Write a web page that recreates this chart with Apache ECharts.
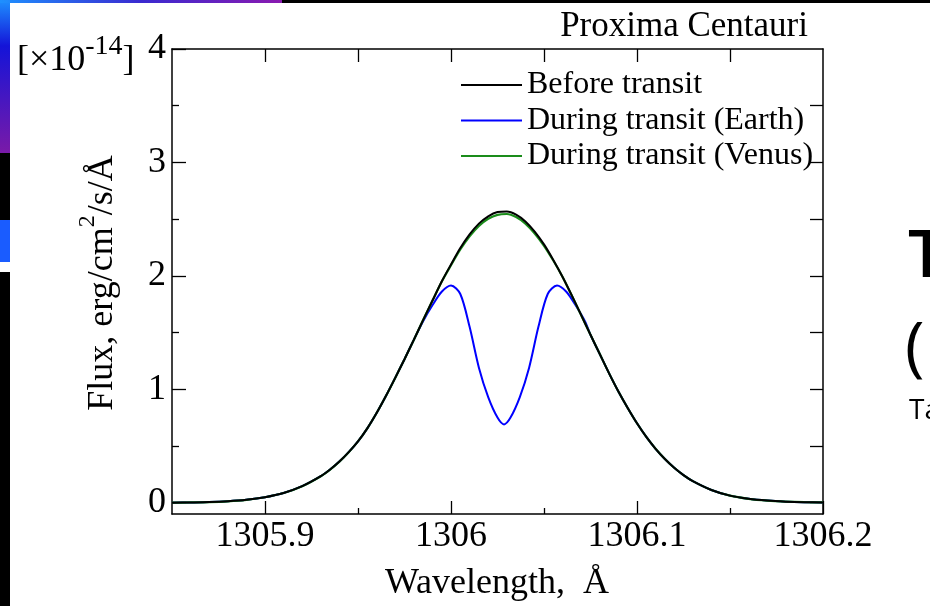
<!DOCTYPE html>
<html><head><meta charset="utf-8">
<script src="https://cdn.jsdelivr.net/npm/echarts@6/dist/echarts.min.js"></script>
<style>html,body{margin:0;padding:0;background:#fff}#c{width:930px;height:606px}</style>
</head><body><div id="c"></div>
<script>
// ---- data ----
const wavelength = [1305.85,1305.86,1305.87,1305.88,1305.89,1305.90,1305.91,1305.92,1305.93,
  1305.935,1305.94,1305.945,1305.95,1305.955,1305.96,1305.965,1305.97,1305.975,1305.98,1305.985,1305.99,1305.995,
  1306.00,1306.005,1306.01,1306.015,1306.02,1306.025,1306.03,1306.035,1306.04,1306.045,1306.05,1306.055,1306.06,
  1306.065,1306.07,1306.075,1306.08,1306.085,1306.09,1306.095,1306.10,1306.105,1306.11,1306.115,1306.12,1306.125,1306.13,
  1306.14,1306.15,1306.16,1306.17,1306.18,1306.19,1306.20];
const fluxBefore = [0.00,0.002,0.005,0.012,0.025,0.048,0.085,0.145,0.233,
  0.292,0.362,0.445,0.54,0.655,0.79,0.94,1.10,1.265,1.435,1.61,1.78,1.95,
  2.10,2.245,2.365,2.46,2.525,2.562,2.567,2.54,2.48,2.39,2.277,2.14,1.99,
  1.825,1.653,1.48,1.31,1.14,0.98,0.835,0.70,0.58,0.475,0.385,0.308,0.243,0.19,
  0.112,0.062,0.034,0.018,0.009,0.004,0.002];
const fluxVenus = [0.00,0.002,0.005,0.012,0.025,0.048,0.085,0.145,0.233,
  0.292,0.362,0.445,0.54,0.655,0.79,0.94,1.10,1.265,1.435,1.61,1.78,1.948,
  2.093,2.232,2.348,2.44,2.503,2.538,2.545,2.518,2.46,2.373,2.265,2.135,1.99,
  1.825,1.653,1.48,1.31,1.14,0.98,0.835,0.70,0.58,0.475,0.385,0.308,0.243,0.19,
  0.112,0.062,0.034,0.018,0.009,0.004,0.002];
// Earth transit: absorption dip region (outside it the curve follows "Before transit")
const earthDipWavelength = [1305.985,1305.99,1305.995,1306.000,1306.005,1306.010,1306.015,1306.020,1306.025,1306.0285,
  1306.032,1306.037,1306.042,1306.047,1306.052,1306.057,1306.062,1306.067,1306.072,1306.075];
const earthDipFlux = [1.60,1.74,1.86,1.915,1.84,1.55,1.19,0.93,0.75,0.69,
  0.75,0.93,1.19,1.55,1.84,1.915,1.86,1.74,1.60,1.48];
const seriesNames = ['Before transit','During transit (Earth)','During transit (Venus)'];
const seriesColors = ['#000000','#0000ff','#1a8c1a'];
const xMajorTicks = [1305.9,1306,1306.1,1306.2];
const xMinorTicks = [1305.95,1306.05,1306.15];
const xTopTicks = [1305.9,1305.95,1306,1306.05,1306.1,1306.15];
const yMajorTicks = [0,1,2,3,4];
const yMinorTicks = [0.5,1.5,2.5,3.5];
const yRightTicks = [0,0.5,1,1.5,2,2.5,3,3.5];

// ---- build ----
const FONT = 'Liberation Serif';
const pairs = (xs, ys) => xs.map((x, i) => [x, ys[i]]);
const before = pairs(wavelength, fluxBefore);
const venus = pairs(wavelength, fluxVenus);
const dS = earthDipWavelength[0], dE = earthDipWavelength[earthDipWavelength.length - 1];
const earth = before.filter(p => p[0] < dS).concat(pairs(earthDipWavelength, earthDipFlux), before.filter(p => p[0] > dE));

const mctx = document.createElement('canvas').getContext('2d');
function tw(t, size) { mctx.font = size + 'px "Liberation Serif"'; return mctx.measureText(t).width; }
function txt(x, y, text, size, extra) {
  return Object.assign({type: 'text', x: x, y: y, z: 100, style: {text: text, fill: '#000',
    font: size + 'px "Liberation Serif"', align: 'left', verticalAlign: 'middle'}}, extra || {});
}
// superscript runs: [text, size, yOffset]
function runs(parts, x0, y0) {
  let x = x0; const out = [];
  parts.forEach(p => { out.push(txt(x, y0 + p[2], p[0], p[1])); x += tw(p[0], p[1]); });
  return {els: out, width: x - x0};
}
const unitRuns = runs([['[×10', 36, 0], ['-14', 28, -14], [']', 36, 0]], 17, 61);
const yTitleParts = [['Flux, erg/cm', 36, 0], ['2', 24, -15], ['/s/Å', 36, 0]];
const yTitleW = yTitleParts.reduce((s, p) => s + tw(p[0], p[1]), 0);
const yTitleRuns = runs(yTitleParts, -yTitleW / 2, 0);

const X = {min: 1305.85, max: 1306.2};
const Y = {min: -0.1, max: 4};
const lineCol = {color: '#000', width: 1.5};
const tickCol = {color: '#000', width: 1.3};
function xAx(extra) {
  return Object.assign({type: 'value', min: X.min, max: X.max, splitLine: {show: false},
    axisLine: {show: false, onZero: false, lineStyle: lineCol}, axisLabel: {show: false}, axisTick: {show: false}}, extra);
}
function yAx(extra) {
  return Object.assign({type: 'value', min: Y.min, max: Y.max, splitLine: {show: false},
    axisLine: {show: false, onZero: false, lineStyle: lineCol}, axisLabel: {show: false}, axisTick: {show: false}}, extra);
}
const chart = echarts.init(document.getElementById('c'), null, {renderer: 'canvas'});
const option = {
  backgroundColor: '#fff',
  animation: false,
  textStyle: {fontFamily: FONT},
  grid: {left: 172, right: 107, top: 49, bottom: 92, containLabel: false},
  xAxis: [
    xAx({position: 'bottom', axisLine: {show: true, onZero: false, lineStyle: lineCol},
      axisTick: {show: true, inside: true, length: 13, customValues: xMajorTicks, lineStyle: tickCol},
      axisLabel: {show: true, customValues: xMajorTicks, showMinLabel: true, showMaxLabel: true,
        formatter: v => String(parseFloat(Number(v).toFixed(2))), fontFamily: FONT, fontSize: 36, color: '#000', margin: 5}}),
    xAx({position: 'bottom', axisTick: {show: true, inside: true, length: 6, customValues: xMinorTicks, lineStyle: tickCol}}),
    xAx({position: 'top', axisLine: {show: true, onZero: false, lineStyle: lineCol},
      axisTick: {show: true, inside: true, length: 13, customValues: xTopTicks, lineStyle: tickCol}})
  ],
  yAxis: [
    yAx({position: 'left', axisLine: {show: true, onZero: false, lineStyle: lineCol},
      axisTick: {show: true, inside: true, length: 14, customValues: yMajorTicks, lineStyle: tickCol},
      axisLabel: {show: true, customValues: yMajorTicks, fontFamily: FONT, fontSize: 36, color: '#000', margin: 6}}),
    yAx({position: 'left', axisTick: {show: true, inside: true, length: 7, customValues: yMinorTicks, lineStyle: tickCol}}),
    yAx({position: 'right', axisLine: {show: true, onZero: false, lineStyle: lineCol},
      axisTick: {show: true, inside: true, length: 13, customValues: yRightTicks, lineStyle: tickCol}})
  ],
  legend: {
    data: seriesNames.map(n => ({name: n, icon: 'rect'})),
    orient: 'vertical', left: 456, top: 64, itemWidth: 61, itemHeight: 2, itemGap: 3.5,
    selectedMode: false,
    textStyle: {fontFamily: FONT, fontSize: 32, color: '#000', lineHeight: 30}
  },
  graphic: [
    {type: 'rect', left: 0, top: 0, z: 100, shape: {width: 10, height: 153},
      style: {fill: new echarts.graphic.LinearGradient(0, 0, 0, 1, [{offset: 0, color: '#1e90ff'}, {offset: 0.3, color: '#1414d8'}, {offset: 1, color: '#7a1aa8'}])}},
    {type: 'rect', left: 0, top: 0, z: 100, shape: {width: 282, height: 3},
      style: {fill: new echarts.graphic.LinearGradient(0, 0, 1, 0, [{offset: 0, color: '#1e90ff'}, {offset: 0.5, color: '#3a2ad0'}, {offset: 1, color: '#8a1ab0'}])}},
    {type: 'rect', left: 282, top: 0, z: 100, shape: {width: 648, height: 3}, style: {fill: '#000'}},
    {type: 'rect', left: 0, top: 153, z: 100, shape: {width: 10, height: 67}, style: {fill: '#000'}},
    {type: 'rect', left: 0, top: 220, z: 100, shape: {width: 10, height: 42}, style: {fill: '#1a5cff'}},
    {type: 'rect', left: 0, top: 272, z: 100, shape: {width: 10, height: 334}, style: {fill: '#000'}},
    ...unitRuns.els,
    {type: 'group', x: 103, y: 283, rotation: Math.PI / 2, children: yTitleRuns.els},
    {type: 'text', z: 100, x: 497, y: 584, style: {
      text: 'Wavelength,  Å', fill: '#000', font: '36px "Liberation Serif"', align: 'center', verticalAlign: 'middle'}},
    {type: 'text', z: 100, x: 808, y: 27, style: {
      text: 'Proxima Centauri', fill: '#000', font: '35px "Liberation Serif"', align: 'right', verticalAlign: 'middle'}},
    {type: 'text', z: 100, x: 908, y: 258, style: {text: 'T', fill: '#000', font: '600 66px "Open Sans"', align: 'left', verticalAlign: 'middle'}},
    {type: 'text', z: 100, x: 905, y: 350, style: {text: '(', fill: '#000', font: '66px "Open Sans"', align: 'left', verticalAlign: 'middle'}},
    {type: 'text', z: 100, x: 909, y: 411, style: {text: 'Ta', fill: '#000', font: '28px "Open Sans"', align: 'left', verticalAlign: 'middle'}}
  ],
  series: [
    {name: seriesNames[1], type: 'line', data: earth, xAxisIndex: 0, yAxisIndex: 0, showSymbol: false, smooth: 0.3,
      lineStyle: {color: seriesColors[1], width: 2}, itemStyle: {color: seriesColors[1]}, z: 2},
    {name: seriesNames[2], type: 'line', data: venus, xAxisIndex: 0, yAxisIndex: 0, showSymbol: false, smooth: 0.3,
      lineStyle: {color: seriesColors[2], width: 2.2}, itemStyle: {color: seriesColors[2]}, z: 3},
    {name: seriesNames[0], type: 'line', data: before, xAxisIndex: 0, yAxisIndex: 0, showSymbol: false, smooth: 0.3,
      lineStyle: {color: seriesColors[0], width: 2}, itemStyle: {color: seriesColors[0]}, z: 4}
  ]
};
chart.setOption(option);
</script>
</body></html>
